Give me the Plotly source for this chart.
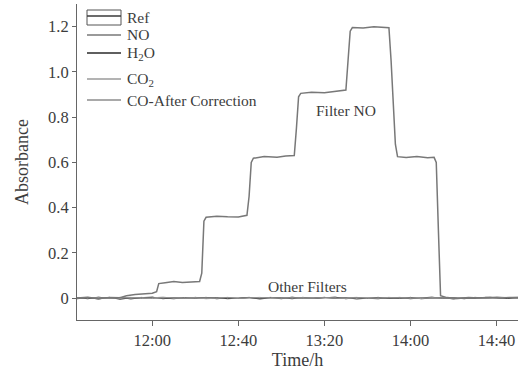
import plotly.graph_objects as go

# ---- data ----
no_times = ["11:25", "11:30", "11:35", "11:40", "11:45", "11:48", "11:52", "11:56", "12:00", "12:02",
            "12:03", "12:06", "12:10", "12:14", "12:18", "12:22", "12:23", "12:24", "12:25", "12:30",
            "12:35", "12:40", "12:44", "12:45", "12:46", "12:47", "12:52", "12:58", "13:02", "13:06",
            "13:07", "13:08", "13:09", "13:14", "13:20", "13:25", "13:30", "13:31", "13:32", "13:33",
            "13:38", "13:43", "13:47", "13:50", "13:51", "13:52", "13:53", "13:54", "13:58", "14:03",
            "14:08", "14:11", "14:12", "14:13", "14:14", "14:17", "14:22", "14:27", "14:32", "14:37",
            "14:42", "14:46", "14:50"]
no_values = [0.000, 0.004, -0.003, 0.003, 0.001, 0.010, 0.016, 0.019, 0.021, 0.028,
             0.064, 0.068, 0.073, 0.069, 0.071, 0.073, 0.110, 0.340, 0.357, 0.362,
             0.359, 0.358, 0.366, 0.450, 0.600, 0.618, 0.626, 0.622, 0.628, 0.630,
             0.750, 0.890, 0.905, 0.910, 0.908, 0.913, 0.920, 1.050, 1.180, 1.196,
             1.194, 1.199, 1.197, 1.195, 1.050, 0.850, 0.680, 0.625, 0.621, 0.626,
             0.620, 0.622, 0.600, 0.300, 0.010, 0.002, -0.002, 0.003, 0.000, 0.004,
             -0.001, 0.003, 0.002]

base_times = ["11:25", "11:30", "11:35", "11:40", "11:45", "11:50", "11:55", "12:00", "12:05", "12:10",
              "12:15", "12:20", "12:25", "12:30", "12:35", "12:40", "12:45", "12:50", "12:55", "13:00",
              "13:05", "13:10", "13:15", "13:20", "13:25", "13:30", "13:35", "13:40", "13:45", "13:50",
              "13:55", "14:00", "14:05", "14:10", "14:15", "14:20", "14:25", "14:30", "14:35", "14:40",
              "14:45", "14:50"]
ref_values = [0.002, -0.003, 0.004, -0.002, 0.003, -0.004, 0.002, 0.004, -0.003, 0.002,
              -0.002, 0.003, -0.001, 0.002, -0.003, 0.001, 0.003, -0.002, 0.002, -0.003,
              0.004, -0.002, 0.001, 0.003, -0.002, 0.002, -0.004, 0.001, 0.003, -0.002,
              0.002, -0.003, 0.001, 0.004, -0.002, 0.002, -0.003, 0.003, 0.000, 0.004,
              0.002, 0.003]
h2o_values = [-0.003, 0.002, -0.004, 0.003, -0.005, 0.001, -0.002, 0.003, 0.000, -0.003,
              0.002, -0.001, 0.003, -0.003, 0.001, -0.002, 0.002, -0.004, 0.001, 0.002,
              -0.003, 0.003, -0.002, 0.001, 0.004, -0.003, 0.002, -0.001, -0.003, 0.002,
              -0.002, 0.003, -0.003, 0.000, 0.002, -0.004, 0.001, -0.002, 0.003, 0.001,
              -0.002, 0.001]
co2_values = [0.001, 0.003, -0.001, 0.000, 0.002, 0.003, -0.002, 0.001, 0.004, -0.001,
              0.000, 0.002, -0.003, 0.001, 0.002, -0.001, 0.000, 0.003, -0.002, 0.001,
              0.000, 0.002, -0.001, 0.003, 0.000, -0.002, 0.001, 0.002, -0.001, 0.003,
              0.000, 0.001, -0.002, 0.002, 0.001, -0.001, 0.002, 0.000, -0.002, 0.002,
              0.003, 0.000]
co_values = [-0.001, 0.000, 0.002, -0.002, 0.001, -0.001, 0.003, -0.002, 0.001, 0.002,
             -0.002, 0.000, 0.002, -0.001, 0.003, -0.002, 0.001, 0.000, 0.003, -0.001,
             0.002, -0.002, 0.000, 0.002, -0.001, 0.001, 0.003, -0.002, 0.001, 0.000,
             0.003, -0.001, 0.002, -0.002, 0.000, 0.001, -0.001, 0.002, -0.001, 0.000,
             0.002, -0.001]

series_names = ["Ref", "NO", "H<sub>2</sub>O", "CO<sub>2</sub>", "CO-After Correction"]
x_ticks = ["12:00", "12:40", "13:20", "14:00", "14:40"]
y_ticks = [0, 0.2, 0.4, 0.6, 0.8, 1.0, 1.2]
y_tick_labels = ["0", "0.2", "0.4", "0.6", "0.8", "1.0", "1.2"]


def ts(t):
    return "2020-01-01 " + t + ":00"


FONT = "Liberation Serif"
TXT = "#3c3c3c"
W, H = 523, 371
ML, MR, MT, MB = 77, 5, 4, 51
PW, PH = W - ML - MR, H - MT - MB


def px(x):
    return (x - ML) / PW


def py(y):
    return (H - MB - y) / PH


colors = ["#3a3a3a", "#787878", "#2a2a2a", "#9a9a9a", "#8c8c8c"]
widths = [1.0, 1.5, 1.0, 1.0, 1.0]
data = [(base_times, ref_values), (no_times, no_values), (base_times, h2o_values),
        (base_times, co2_values), (base_times, co_values)]

fig = go.Figure()
for i in [0, 2, 3, 4, 1]:
    tt, vv = data[i]
    fig.add_trace(go.Scatter(
        x=[ts(t) for t in tt], y=vv, mode="lines", name=series_names[i],
        line=dict(color=colors[i], width=widths[i]), showlegend=False,
    ))

# ---- legend drawn in the style of the original ----
leg_line_y = [16, 35, 53, 79, 100]
leg_text_y = [17, 35, 54, 79, 101]
shapes = []
shapes.append(dict(type="rect", xref="paper", yref="paper", x0=px(87), x1=px(121),
                   y0=py(25), y1=py(10), line=dict(color="#555", width=1)))
for i in range(5):
    shapes.append(dict(type="line", xref="paper", yref="paper", x0=px(87), x1=px(121),
                       y0=py(leg_line_y[i]), y1=py(leg_line_y[i]),
                       line=dict(color=colors[i], width=1.3 if i != 2 else 1.6)))
    fig.add_annotation(xref="paper", yref="paper", x=px(125), y=py(leg_text_y[i]),
                       xanchor="left", yanchor="middle", text=series_names[i], showarrow=False,
                       font=dict(family=FONT, size=15.5, color=TXT))

fig.add_annotation(x=ts("13:30"), y=0.83, text="Filter NO", showarrow=False,
                   font=dict(family=FONT, size=15.5, color=TXT))
fig.add_annotation(x=ts("13:12"), y=0.05, text="Other Filters", showarrow=False,
                   font=dict(family=FONT, size=15.5, color=TXT))

fig.update_layout(
    width=W, height=H,
    margin=dict(l=ML, r=MR, t=MT, b=MB),
    paper_bgcolor="white", plot_bgcolor="white",
    font=dict(family=FONT, size=15, color=TXT),
    showlegend=False,
    shapes=shapes,
    xaxis=dict(
        type="date", range=[ts("11:25"), ts("14:50")],
        tickvals=[ts(t) for t in x_ticks], ticktext=x_ticks,
        showgrid=False, zeroline=False, showline=True, linecolor="#666", linewidth=1,
        ticks="outside", ticklen=5, tickcolor="#666",
        tickfont=dict(family=FONT, size=16.5, color=TXT),
        title=dict(text="Time/h", font=dict(family=FONT, size=18, color=TXT), standoff=4),
    ),
    yaxis=dict(
        range=[-0.097, 1.30], tickvals=y_ticks, ticktext=y_tick_labels,
        showgrid=False, zeroline=False, showline=True, linecolor="#666", linewidth=1,
        ticks="outside", ticklen=4, tickcolor="#666",
        tickfont=dict(family=FONT, size=16.5, color=TXT),
        title=dict(text="Absorbance", font=dict(family=FONT, size=18, color=TXT), standoff=14),
    ),
)

fig.write_html("out.html", config={"displayModeBar": False},
               post_script="document.body.style.margin='0';")
